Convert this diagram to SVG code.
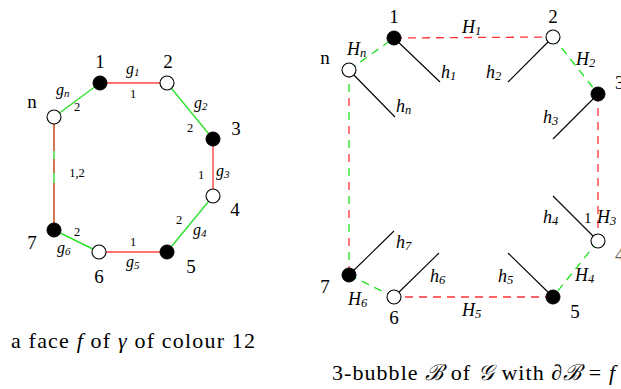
<svg xmlns="http://www.w3.org/2000/svg" width="621" height="389" viewBox="0 0 621 389">
<style>
text{font-family:'Liberation Serif','Times New Roman','DejaVu Serif',serif;fill:#000}
.big{font-size:19px}
.sm{font-size:12.5px}
.mi{font-style:italic;font-size:16px}
.mb{font-style:italic;font-size:18px}
.sub{font-size:11px;font-style:italic}
.subb{font-size:12.5px;font-style:italic}
.cap{font-size:22px}
.red{stroke:#ff4545;stroke-width:1.4;fill:none}
.grn{stroke:#2ee02e;stroke-width:1.4;fill:none}
.rd{stroke:#ff3030;stroke-width:1.3;fill:none;stroke-dasharray:8 6}
.gd{stroke:#22e022;stroke-width:1.3;fill:none;stroke-dasharray:8 6}
.stub{stroke:#000;stroke-width:1.1}
.bn{fill:#000;stroke:#000;stroke-width:1}
.wn{fill:#fff;stroke:#000;stroke-width:1.1}
</style>
<g id="connectors">
  <line class="red" x1="100" y1="83" x2="167" y2="83"/>
  <line class="grn" x1="167" y1="83" x2="213" y2="139"/>
  <line class="red" x1="213" y1="139" x2="213" y2="196"/>
  <line class="grn" x1="213" y1="196" x2="167" y2="252"/>
  <line class="red" x1="167" y1="252" x2="99" y2="252"/>
  <line class="grn" x1="99" y1="252" x2="54" y2="230"/>
  <line class="grn" x1="54" y1="117" x2="100" y2="83"/>
  <line class="grn" x1="54" y1="117" x2="54" y2="230"/>
  <line class="red" x1="54" y1="117" x2="54" y2="230" style="stroke-dasharray:34 8 14 10 40 8"/>
  <line class="rd" x1="394" y1="38" x2="553" y2="37"/>
  <line class="gd" x1="553" y1="37" x2="598" y2="94"/>
  <line class="rd" x1="598" y1="94" x2="598" y2="241"/>
  <line class="gd" x1="598" y1="241" x2="553" y2="297"/>
  <line class="rd" x1="553" y1="297" x2="394" y2="297"/>
  <line class="gd" x1="394" y1="297" x2="349" y2="275"/>
  <line class="gd" x1="349" y1="70" x2="394" y2="38"/>
  <line class="gd" x1="349" y1="70" x2="349" y2="275" style="stroke-dasharray:8 20;stroke-dashoffset:-14"/>
  <line class="rd" x1="349" y1="70" x2="349" y2="275" style="stroke-dasharray:8 20"/>
  <line class="stub" x1="394" y1="38" x2="440" y2="82"/>
  <line class="stub" x1="553" y1="37" x2="508" y2="82"/>
  <line class="stub" x1="349" y1="70" x2="395" y2="117"/>
  <line class="stub" x1="598" y1="94" x2="553" y2="139"/>
  <line class="stub" x1="598" y1="241" x2="553" y2="196"/>
  <line class="stub" x1="553" y1="297" x2="508" y2="253"/>
  <line class="stub" x1="394" y1="297" x2="439" y2="253"/>
  <line class="stub" x1="349" y1="275" x2="394" y2="231"/>
</g>
<g id="left-face">
  <g id="L1"><circle class="bn" cx="100" cy="83" r="7"/><text class="big" x="100" y="68" text-anchor="middle">1</text></g>
  <g id="L2"><circle class="wn" cx="167" cy="83" r="7"/><text class="big" x="168" y="68" text-anchor="middle">2</text></g>
  <g id="L3"><circle class="bn" cx="213" cy="139" r="7"/><text class="big" x="236" y="135" text-anchor="middle">3</text></g>
  <g id="L4"><circle class="wn" cx="213" cy="196" r="7"/><text class="big" x="235" y="216" text-anchor="middle">4</text></g>
  <g id="L5"><circle class="bn" cx="167" cy="252" r="7"/><text class="big" x="191" y="273" text-anchor="middle">5</text></g>
  <g id="L6"><circle class="wn" cx="99" cy="252" r="7"/><text class="big" x="99" y="283" text-anchor="middle">6</text></g>
  <g id="L7"><circle class="bn" cx="54" cy="230" r="7"/><text class="big" x="32" y="249" text-anchor="middle">7</text></g>
  <g id="Ln"><circle class="wn" cx="54" cy="117" r="7"/><text class="big" x="32" y="108" text-anchor="middle">n</text></g>
  <g id="left-labels">
    <text x="126" y="74"><tspan class="mi">g</tspan><tspan class="sub" dy="2">1</tspan></text>
    <text class="sm" x="133" y="98" text-anchor="middle">1</text>
    <text x="56" y="95"><tspan class="mi">g</tspan><tspan class="sub" dy="2">n</tspan></text>
    <text class="sm" x="77" y="111" text-anchor="middle">2</text>
    <text x="194" y="108"><tspan class="mi">g</tspan><tspan class="sub" dy="2">2</tspan></text>
    <text class="sm" x="190" y="132" text-anchor="middle">2</text>
    <text class="sm" x="201" y="179" text-anchor="middle">1</text>
    <text x="216" y="176"><tspan class="mi">g</tspan><tspan class="sub" dy="2">3</tspan></text>
    <text class="sm" x="77" y="177" text-anchor="middle">1,2</text>
    <text class="sm" x="179" y="224" text-anchor="middle">2</text>
    <text x="193" y="235"><tspan class="mi">g</tspan><tspan class="sub" dy="2">4</tspan></text>
    <text class="sm" x="133" y="246" text-anchor="middle">1</text>
    <text x="126" y="267"><tspan class="mi">g</tspan><tspan class="sub" dy="2">5</tspan></text>
    <text class="sm" x="77" y="236" text-anchor="middle">2</text>
    <text x="57" y="253"><tspan class="mi">g</tspan><tspan class="sub" dy="2">6</tspan></text>
  </g>
</g>
<g id="bubble">
  <g id="R1"><circle class="bn" cx="394" cy="38" r="7"/><text class="big" x="394" y="23" text-anchor="middle">1</text></g>
  <g id="R2"><circle class="wn" cx="553" cy="37" r="7"/><text class="big" x="553" y="23" text-anchor="middle">2</text></g>
  <g id="R3"><circle class="bn" cx="598" cy="94" r="7"/><text class="big" x="615" y="89">3</text></g>
  <g id="R4"><circle class="wn" cx="598" cy="241" r="7"/><text class="big" x="615" y="261" style="fill:#666">4</text></g>
  <g id="R5"><circle class="bn" cx="553" cy="297" r="7"/><text class="big" x="575" y="318" text-anchor="middle">5</text></g>
  <g id="R6"><circle class="wn" cx="394" cy="297" r="7"/><text class="big" x="394" y="324" text-anchor="middle">6</text></g>
  <g id="R7"><circle class="bn" cx="349" cy="275" r="7"/><text class="big" x="325" y="293" text-anchor="middle">7</text></g>
  <g id="Rn"><circle class="wn" cx="349" cy="70" r="7"/><text class="big" x="325" y="64" text-anchor="middle">n</text></g>
  <g id="bubble-labels">
    <text x="462" y="33"><tspan class="mb">H</tspan><tspan class="subb" dy="2">1</tspan></text>
    <text x="347" y="55"><tspan class="mb">H</tspan><tspan class="subb" dy="2">n</tspan></text>
    <text x="576" y="65"><tspan class="mb">H</tspan><tspan class="subb" dy="2">2</tspan></text>
    <text x="441" y="78"><tspan class="mb">h</tspan><tspan class="subb" dy="2">1</tspan></text>
    <text x="486" y="78"><tspan class="mb">h</tspan><tspan class="subb" dy="2">2</tspan></text>
    <text x="396" y="112"><tspan class="mb">h</tspan><tspan class="subb" dy="2">n</tspan></text>
    <text x="543" y="123"><tspan class="mb">h</tspan><tspan class="subb" dy="2">3</tspan></text>
    <text x="543" y="223"><tspan class="mb">h</tspan><tspan class="subb" dy="2">4</tspan></text>
    <text x="584" y="223" style="font-size:15px">1</text>
    <text x="597" y="223"><tspan class="mb">H</tspan><tspan class="subb" dy="2">3</tspan></text>
    <text x="575" y="281"><tspan class="mb">H</tspan><tspan class="subb" dy="2">4</tspan></text>
    <text x="498" y="282"><tspan class="mb">h</tspan><tspan class="subb" dy="2">5</tspan></text>
    <text x="430" y="282"><tspan class="mb">h</tspan><tspan class="subb" dy="2">6</tspan></text>
    <text x="396" y="248"><tspan class="mb">h</tspan><tspan class="subb" dy="2">7</tspan></text>
    <text x="348" y="305"><tspan class="mb">H</tspan><tspan class="subb" dy="2">6</tspan></text>
    <text x="462" y="316"><tspan class="mb">H</tspan><tspan class="subb" dy="2">5</tspan></text>
  </g>
</g>
<g id="captions">
  <text class="cap" x="11" y="348" textLength="244" lengthAdjust="spacing">a face <tspan font-style="italic">f</tspan> of <tspan font-style="italic">γ</tspan> of colour 12</text>
  <text class="cap" x="332" y="380" textLength="283" lengthAdjust="spacing">3-bubble <tspan font-family="DejaVu Serif,serif" font-style="italic">ℬ</tspan> of <tspan font-family="DejaVu Serif,serif" font-style="italic">𝒢</tspan> with ∂<tspan font-family="DejaVu Serif,serif" font-style="italic">ℬ</tspan> = <tspan font-style="italic">f</tspan></text>
</g>
</svg>
